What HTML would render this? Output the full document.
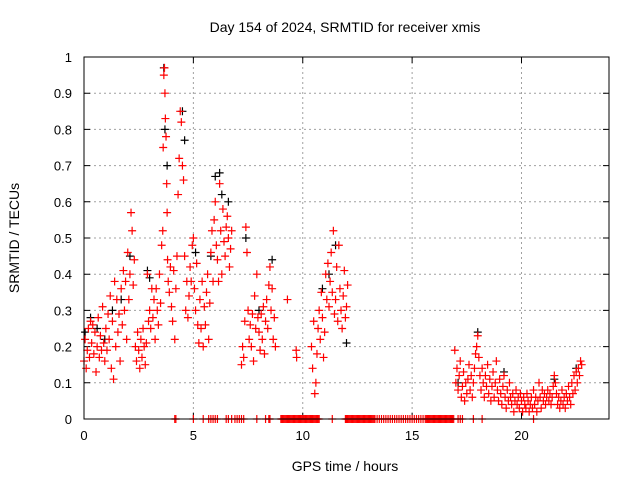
<!DOCTYPE html>
<html><head><meta charset="utf-8"><style>
body{margin:0;background:#fff}
svg{display:block;font-family:"Liberation Sans",sans-serif}
</style></head><body>
<svg id="chart" width="640" height="480" viewBox="0 0 640 480" xmlns="http://www.w3.org/2000/svg">
<rect width="640" height="480" fill="#fff"/>
<text x="345" y="32" font-size="14" text-anchor="middle">Day 154 of 2024, SRMTID for receiver xmis</text>
<text x="345" y="471" font-size="14" text-anchor="middle">GPS time / hours</text>
<text transform="translate(19,238) rotate(-90)" font-size="14" text-anchor="middle">SRMTID / TECUs</text>
<g id="grid"></g>
<g id="ticks"></g>
<g id="black" stroke="#000" stroke-width="1.2" fill="none"></g>
<g id="red" stroke="#f00" stroke-width="1.2" fill="none"></g>
<rect x="84" y="57" width="525" height="362" fill="none" stroke="#000" stroke-width="1"/>
</svg>
<script>
const xTicks=[0,5,10,15,20];
const yTicks=[0,0.1,0.2,0.3,0.4,0.5,0.6,0.7,0.8,0.9,1];
const yTickLabels=["0","0.1","0.2","0.3","0.4","0.5","0.6","0.7","0.8","0.9","1"];
const redHours=[0,0.05,0.1,0.15,0.2,0.25,0.3,0.35,0.4,0.45,0.5,0.55,0.6,0.65,0.7,0.75,0.8,0.85,0.9,0.95,1.0,1.05,1.1,1.15,1.2,1.25,1.3,1.35,1.4,1.45,1.5,1.55,1.6,1.65,1.7,1.75,1.8,1.85,1.9,1.95,2.0,2.05,2.1,2.15,2.2,2.25,2.3,2.35,2.4,2.45,2.5,2.55,2.6,2.65,2.7,2.75,2.8,2.85,2.9,2.95,
3.0,3.05,3.1,3.15,3.2,3.25,3.3,3.35,3.4,3.45,3.5,3.55,3.6,3.62,3.65,3.68,3.7,3.72,3.75,3.78,3.8,3.82,3.85,3.9,3.95,4.0,4.05,4.1,4.15,4.2,4.25,4.3,4.35,4.4,4.45,4.5,4.55,4.6,4.65,4.7,4.75,4.8,4.85,4.9,4.95,
5.0,5.05,5.1,5.15,5.2,5.25,5.3,5.35,5.4,5.45,5.5,5.55,5.6,5.65,5.7,5.75,5.8,5.85,5.9,5.95,6.0,6.05,6.1,6.15,6.2,6.25,6.3,6.35,6.4,6.45,6.5,6.55,6.6,6.65,6.7,6.75,
7.2,7.25,7.3,7.35,7.4,7.45,7.5,7.55,7.6,7.65,7.7,7.75,7.8,7.85,7.9,7.95,8.0,8.05,8.1,8.15,8.2,8.25,8.3,8.35,8.4,8.45,8.5,8.55,8.6,8.65,8.7,8.75,9.3,9.7,9.72,
10.4,10.45,10.5,10.55,10.6,10.65,10.7,10.75,10.8,10.85,10.9,10.95,11.0,11.05,11.1,11.15,11.2,11.25,11.3,11.35,11.4,11.45,11.5,11.55,11.6,11.65,11.7,11.75,11.8,11.85,11.9,11.95,12.0,12.05,
16.95,17.0,17.05,17.1,17.15,17.2,17.25,17.3,17.35,17.4,17.45,17.5,17.55,17.6,17.65,17.7,17.75,17.8,17.85,17.9,17.95,18.0,18.05,18.1,18.15,18.2,18.25,18.3,18.35,18.4,18.45,18.5,18.55,18.6,18.65,18.7,18.75,18.8,18.85,18.9,18.95,19.0,19.05,19.1,19.15,19.2,19.25,19.3,19.35,19.4,19.45,19.5,19.55,19.6,19.65,19.7,19.75,19.8,19.85,19.9,19.95,20.0,20.05,20.1,20.15,20.2,20.25,20.3,20.35,20.4,20.45,20.5,20.55,20.6,20.65,20.7,20.75,20.8,20.85,20.9,20.95,21.0,21.05,21.1,21.15,21.2,21.25,21.3,21.35,21.4,21.45,21.5,21.55,21.6,21.65,21.7,21.75,21.8,21.85,21.9,21.95,22.0,22.05,22.1,22.15,22.2,22.25,22.3,22.35,22.4,22.45,22.5,22.55,22.6,22.65,22.7,22.75];
const redValues=[0.16,0.22,0.14,0.19,0.25,0.17,0.27,0.21,0.26,0.18,0.24,0.13,0.2,0.28,0.17,0.23,0.19,0.31,0.21,0.16,0.25,0.19,0.29,0.22,0.34,0.14,0.27,0.11,0.38,0.2,0.33,0.24,0.29,0.16,0.36,0.26,0.41,0.3,0.38,0.22,0.46,0.33,0.4,0.57,0.52,0.37,0.44,0.2,0.16,0.24,0.19,0.14,0.22,0.17,0.25,0.2,0.15,0.21,0.4,0.27,
0.3,0.25,0.36,0.28,0.33,0.22,0.36,0.3,0.26,0.4,0.32,0.48,0.52,0.75,0.95,0.97,0.9,0.83,0.78,0.65,0.57,0.44,0.38,0.35,0.42,0.31,0.27,0.41,0.22,0.36,0.45,0.62,0.72,0.85,0.82,0.7,0.66,0.45,0.3,0.38,0.28,0.34,0.42,0.38,0.48,
0.5,0.36,0.3,0.43,0.26,0.21,0.33,0.25,0.38,0.2,0.31,0.26,0.35,0.4,0.22,0.32,0.46,0.52,0.38,0.55,0.6,0.48,0.44,0.38,0.65,0.52,0.4,0.58,0.49,0.45,0.53,0.56,0.5,0.42,0.47,0.52,
0.15,0.2,0.17,0.27,0.53,0.46,0.3,0.22,0.26,0.2,0.29,0.16,0.34,0.25,0.4,0.28,0.24,0.19,0.29,0.22,0.31,0.18,0.27,0.33,0.25,0.37,0.42,0.3,0.36,0.22,0.28,0.2,0.33,0.19,0.17,
0.2,0.14,0.27,0.07,0.1,0.18,0.25,0.3,0.22,0.35,0.28,0.17,0.24,0.4,0.33,0.43,0.31,0.38,0.46,0.35,0.52,0.29,0.33,0.42,0.27,0.48,0.36,0.3,0.25,0.34,0.41,0.28,0.31,0.37,
0.19,0.1,0.14,0.08,0.12,0.16,0.06,0.09,0.13,0.05,0.1,0.07,0.11,0.15,0.08,0.12,0.06,0.1,0.14,0.18,0.2,0.23,0.17,0.12,0.08,0.14,0.1,0.06,0.12,0.09,0.15,0.07,0.11,0.05,0.09,0.13,0.06,0.1,0.16,0.08,0.05,0.11,0.07,0.04,0.09,0.12,0.06,0.03,0.08,0.05,0.1,0.06,0.04,0.07,0.02,0.05,0.08,0.04,0.06,0.03,0.07,0.05,0.02,0.06,0.04,0.03,0.07,0.05,0.02,0.04,0.06,0.03,0.08,0.04,0.06,0.02,0.05,0.1,0.06,0.03,0.08,0.05,0.07,0.04,0.06,0.08,0.05,0.07,0.04,0.06,0.09,0.12,0.1,0.07,0.04,0.06,0.03,0.05,0.08,0.04,0.06,0.03,0.07,0.05,0.09,0.06,0.04,0.1,0.07,0.12,0.08,0.13,0.1,0.14,0.12,0.16,0.15];
const zeroHours=[4.15,4.2,5.0,5.45,5.7,5.8,5.9,6.0,6.1,6.5,6.6,6.75,6.9,7.0,7.1,7.2,7.3,7.9,8.3,8.45,8.5,9.0,9.05,9.1,9.15,9.2,9.25,9.3,9.35,9.4,9.45,9.5,9.55,9.6,9.65,9.7,9.75,9.8,9.85,9.9,9.95,10.0,10.05,10.1,10.15,10.2,10.25,10.3,10.35,10.4,10.45,10.5,10.55,10.6,10.65,10.7,10.75,11.35,11.95,12.0,12.05,12.1,12.15,12.2,12.25,12.3,12.35,12.4,12.45,12.5,12.55,12.6,12.65,12.7,12.75,12.8,12.85,12.9,12.95,13.0,13.05,13.1,13.15,13.2,13.25,13.3,13.4,13.5,13.6,13.7,13.8,13.9,14.0,14.1,14.2,14.3,14.4,14.5,14.6,14.7,14.8,14.9,15.0,15.1,15.2,15.3,15.4,15.5,15.6,15.65,15.7,15.75,15.8,15.85,15.9,15.95,16.0,16.05,16.1,16.15,16.2,16.25,16.3,16.35,16.4,16.45,16.5,16.55,16.6,16.65,16.7,16.75,16.8,16.85,16.9,17.1,17.2,17.3,17.8,18.2,20.55];
const blackHours=[0.05,0.3,0.6,0.95,1.3,1.7,2.1,2.9,3.0,3.65,3.7,3.8,4.5,4.6,5.1,5.8,6.0,6.2,6.3,6.6,7.4,8.0,8.6,10.9,11.2,11.5,12.0,17.1,18.0,19.2,21.5,22.5];
const blackValues=[0.24,0.28,0.25,0.22,0.3,0.33,0.45,0.41,0.39,0.97,0.8,0.7,0.85,0.77,0.46,0.45,0.67,0.68,0.62,0.6,0.5,0.3,0.44,0.36,0.4,0.48,0.21,0.1,0.24,0.13,0.11,0.14];

const X0=84,X1=609,Y0=419,Y1=57;
const xs=h=>X0+h/24*(X1-X0);
const ys=v=>Y0-v*(Y0-Y1);
const NS="http://www.w3.org/2000/svg";
function mk(tag,attrs,parent){const e=document.createElementNS(NS,tag);for(const k in attrs)e.setAttribute(k,attrs[k]);parent.appendChild(e);return e;}
const grid=document.getElementById('grid'),ticks=document.getElementById('ticks'),svg=document.getElementById('chart');
xTicks.forEach(t=>{const x=xs(t);
 if(t>0){const g=mk('line',{x1:x,x2:x,y1:Y1,y2:Y0,stroke:'#a0a0a0','stroke-dasharray':'2,3'},grid);
 
 }
 const tk=mk('path',{d:`M${x} ${Y0}v-6M${x} ${Y1}v6`,stroke:'#000'},ticks);
 
 
 const l=mk('text',{x:x,y:Y0+21,'font-size':13,'text-anchor':'middle'},svg);l.textContent=t;
 
 });
yTicks.forEach((t,i)=>{const y=ys(t);
 if(t>0&&t<1){const g=mk('line',{x1:X0,x2:X1,y1:y,y2:y,stroke:'#a0a0a0','stroke-dasharray':'2,3'},grid);
 
 }
 const tk=mk('path',{d:`M${X0} ${y}h6M${X1} ${y}h-6`,stroke:'#000'},ticks);
 
 
 const l=mk('text',{x:X0-12,y:y+5,'font-size':13,'text-anchor':'end'},svg);l.textContent=yTickLabels[i];
 
 });
function cross(g,h,v){const x=xs(h),y=ys(v);const p=mk('path',{d:`M${x-4} ${y}h8M${x} ${y-4}v8`},g);
 
 }
const gb=document.getElementById('black'),gr=document.getElementById('red');
blackHours.forEach((h,i)=>cross(gb,h,blackValues[i]));
redHours.forEach((h,i)=>cross(gr,h,redValues[i]));
zeroHours.forEach(h=>cross(gr,h,0));
</script>
</body></html>
